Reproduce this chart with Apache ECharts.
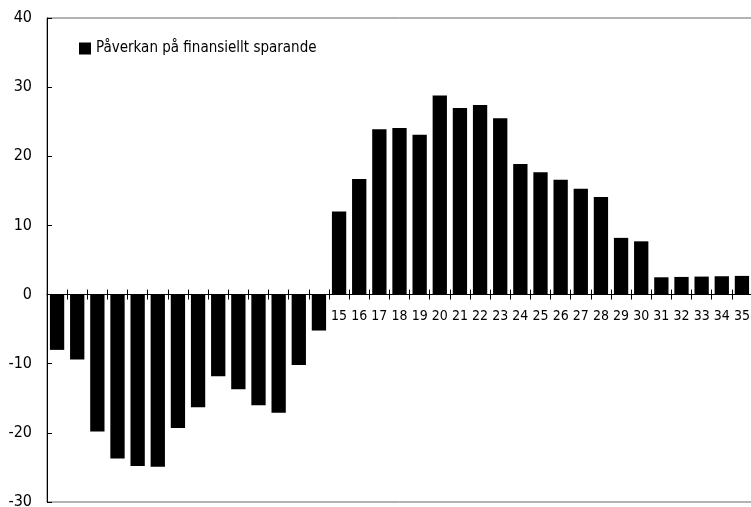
<!DOCTYPE html>
<html>
<head>
<meta charset="utf-8">
<script src="https://cdn.jsdelivr.net/npm/echarts@6/dist/echarts.min.js"></script>
<style>
html,body{margin:0;padding:0;background:#fff;}
#main{width:751px;height:507px;}
</style>
</head>
<body>
<div id="main"></div>
<script>
var categories=['1','2','3','4','5','6','7','8','9','10','11','12','13','14','15','16','17','18','19','20',
  '21','22','23','24','25','26','27','28','29','30','31','32','33','34','35'];
var seriesName='Påverkan på finansiellt sparande';
var values=[-8.0,-9.4,-19.8,-23.7,-24.8,-24.9,-19.3,-16.3,-11.8,-13.7,-16.0,-17.1,-10.2,-5.2,
  12.0,16.7,23.9,24.1,23.1,28.8,27.0,27.4,25.5,18.9,17.7,16.6,15.3,14.1,8.2,7.7,2.5,2.55,2.6,2.65,2.7];
var yTicks=[-30,-20,-10,0,10,20,30,40];

var font="'Liberation Sans Narrow','DejaVu Sans Condensed',sans-serif";
var chart=echarts.init(document.getElementById('main'),null,{renderer:'canvas'});

var option={
  animation:false,
  backgroundColor:'#fff',
  textStyle:{fontFamily:font},
  grid:{
    left:47,right:-1,top:18,bottom:5,
    outerBoundsMode:'none',
    show:true,borderColor:'#666',borderWidth:1,backgroundColor:'transparent'
  },
  legend:{
    show:true,
    left:79,top:41,padding:0,
    itemWidth:12,itemHeight:12,
    icon:'rect',
    textStyle:{fontFamily:font,fontSize:15,color:'#000'},
    data:[seriesName]
  },
  xAxis:[{
    // zero line, ticks downward; labels sit at grid bottom in v6 so pull them up
    type:'category',
    data:categories,
    position:'bottom',
    axisLine:{onZero:true,onZeroAxisIndex:0,lineStyle:{color:'#000',width:1}},
    axisTick:{show:true,inside:false,length:5,lineStyle:{color:'#000'}},
    axisLabel:{
      margin:-193,fontFamily:font,fontSize:14,color:'#000',interval:0,
      formatter:function(v,i){return values[i]<0?'':v;}
    }
  },{
    // ticks upward on the zero line
    type:'category',
    data:categories,
    position:'top',
    axisLine:{show:false,onZero:true,onZeroAxisIndex:1},
    axisTick:{show:true,inside:false,length:5,lineStyle:{color:'#000'}},
    axisLabel:{show:false}
  }],
  yAxis:[{
    type:'value',
    min:yTicks[0],max:yTicks[yTicks.length-1],interval:10,
    axisLine:{show:true,lineStyle:{color:'#000'}},
    axisTick:{show:true,inside:true,length:5,lineStyle:{color:'#000'}},
    axisLabel:{margin:15,fontFamily:font,fontSize:16,color:'#000'},
    splitLine:{show:false}
  },{
    type:'value',
    position:'right',
    min:yTicks[0],max:yTicks[yTicks.length-1],interval:10,
    axisLine:{show:false},axisTick:{show:false},axisLabel:{show:false},
    splitLine:{show:false}
  }],
  series:[{
    name:seriesName,
    type:'bar',
    xAxisIndex:0,
    yAxisIndex:0,
    data:values,
    barCategoryGap:'29%',
    itemStyle:{color:'#000'}
  }]
};
chart.setOption(option);
</script>
</body>
</html>
